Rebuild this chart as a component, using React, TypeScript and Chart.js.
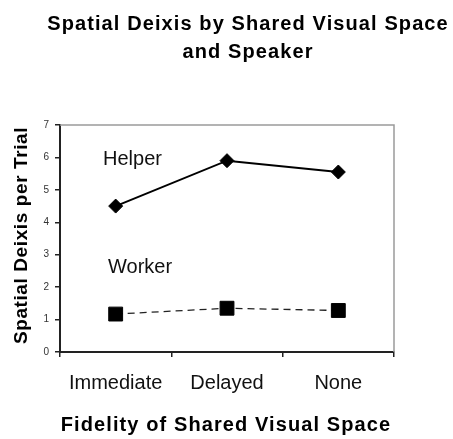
import React, { useEffect, useRef } from 'react';
import { Chart, registerables } from 'chart.js';

Chart.register(...registerables);

const TITLE_LINES = ['Spatial Deixis by Shared Visual Space', 'and Speaker'];
const X_TITLE = 'Fidelity of Shared Visual Space';
const Y_TITLE = 'Spatial Deixis per Trial';
const CATEGORIES = ['Immediate', 'Delayed', 'None'];
const SERIES_NAMES = ['Helper', 'Worker'];
const HELPER = [4.5, 5.9, 5.55];
const WORKER = [1.17, 1.35, 1.28];
const Y_MIN = 0;
const Y_MAX = 7;
const Y_STEP = 1;

const FONT = "'Liberation Sans', Arial, Helvetica, sans-serif";

const W = 453;
const H = 439;

const decorPlugin = {
  id: 'decor',
  beforeDatasetsDraw(chart: any) {
    const { ctx, chartArea: a } = chart;
    ctx.save();
    ctx.strokeStyle = '#9a9a9a';
    ctx.lineWidth = 1.5;
    ctx.beginPath();
    ctx.moveTo(a.left, a.top);
    ctx.lineTo(a.right, a.top);
    ctx.lineTo(a.right, a.bottom);
    ctx.stroke();
    ctx.restore();
  },
  afterDraw(chart: any) {
    const { ctx, chartArea: a } = chart;
    ctx.save();
    ctx.fillStyle = '#000';
    ctx.textBaseline = 'alphabetic';

    // main title
    ctx.textAlign = 'center';
    ctx.font = `bold 20px ${FONT}`;
    (ctx as any).letterSpacing = '1.1px';
    ctx.fillText(TITLE_LINES[0], 248, 30);
    ctx.fillText(TITLE_LINES[1], 248, 58);

    // x axis title
    ctx.fillText(X_TITLE, (a.left + a.right) / 2 - 1, 431);

    // y axis title
    ctx.save();
    ctx.translate(27, (a.top + a.bottom) / 2 - 3);
    ctx.rotate(-Math.PI / 2);
    ctx.font = `bold 19px ${FONT}`;
    (ctx as any).letterSpacing = '0.6px';
    ctx.fillText(Y_TITLE, 0, 0);
    ctx.restore();

    // series labels
    (ctx as any).letterSpacing = '0px';
    ctx.textAlign = 'left';
    ctx.font = `20px ${FONT}`;
    ctx.fillStyle = '#111';
    ctx.fillText(chart.data.datasets[0].label, a.left + 43, 165);
    ctx.fillText(chart.data.datasets[1].label, a.left + 48, 273);
    ctx.restore();
  },
};

export default function App() {
  const canvasRef = useRef<HTMLCanvasElement | null>(null);

  useEffect(() => {
    const canvas = canvasRef.current;
    if (!canvas) return;
    const chart = new Chart(canvas, {
      type: 'line',
      data: {
        labels: CATEGORIES,
        datasets: [
          {
            label: SERIES_NAMES[0],
            data: HELPER,
            borderColor: '#000',
            borderWidth: 2,
            pointStyle: 'rectRot',
            pointRadius: 7,
            pointBackgroundColor: '#000',
            pointBorderColor: '#000',
            pointBorderWidth: 1,
            tension: 0,
          },
          {
            label: SERIES_NAMES[1],
            data: WORKER,
            borderColor: '#222',
            borderWidth: 1.3,
            borderDash: [7, 5],
            pointStyle: 'rect',
            pointRadius: 9.8,
            pointBackgroundColor: '#000',
            pointBorderColor: '#000',
            pointBorderWidth: 1,
            tension: 0,
          },
        ],
      },
      options: {
        responsive: true,
        maintainAspectRatio: false,
        animation: false,
        layout: { padding: { top: 125, right: 59, left: 0, bottom: 0 } },
        plugins: {
          legend: { display: false },
          tooltip: { enabled: false },
          title: { display: false },
        },
        scales: {
          x: {
            type: 'category',
            offset: true,
            afterFit: (scale: any) => {
              scale.height = 87;
            },
            grid: {
              offset: true,
              drawOnChartArea: false,
              drawTicks: true,
              tickLength: 5,
              color: '#222',
              lineWidth: 1.5,
            },
            border: { color: '#222', width: 2 },
            ticks: {
              color: '#111',
              font: { family: FONT, size: 20 },
              padding: 14,
              maxRotation: 0,
              autoSkip: false,
            },
          },
          y: {
            min: Y_MIN,
            max: Y_MAX,
            afterFit: (scale: any) => {
              scale.width = 60;
            },
            grid: {
              drawOnChartArea: false,
              drawTicks: true,
              tickLength: 5,
              color: '#222',
              lineWidth: 1.5,
            },
            border: { color: '#222', width: 2 },
            ticks: {
              stepSize: Y_STEP,
              color: '#333',
              font: { family: FONT, size: 10 },
              padding: 6,
            },
          },
        },
      },
      plugins: [decorPlugin],
    });
    return () => chart.destroy();
  }, []);

  return (
    <div style={{ position: 'absolute', left: 0, top: 0, width: W, height: H, background: '#fff' }}>
      <canvas ref={canvasRef} />
    </div>
  );
}
